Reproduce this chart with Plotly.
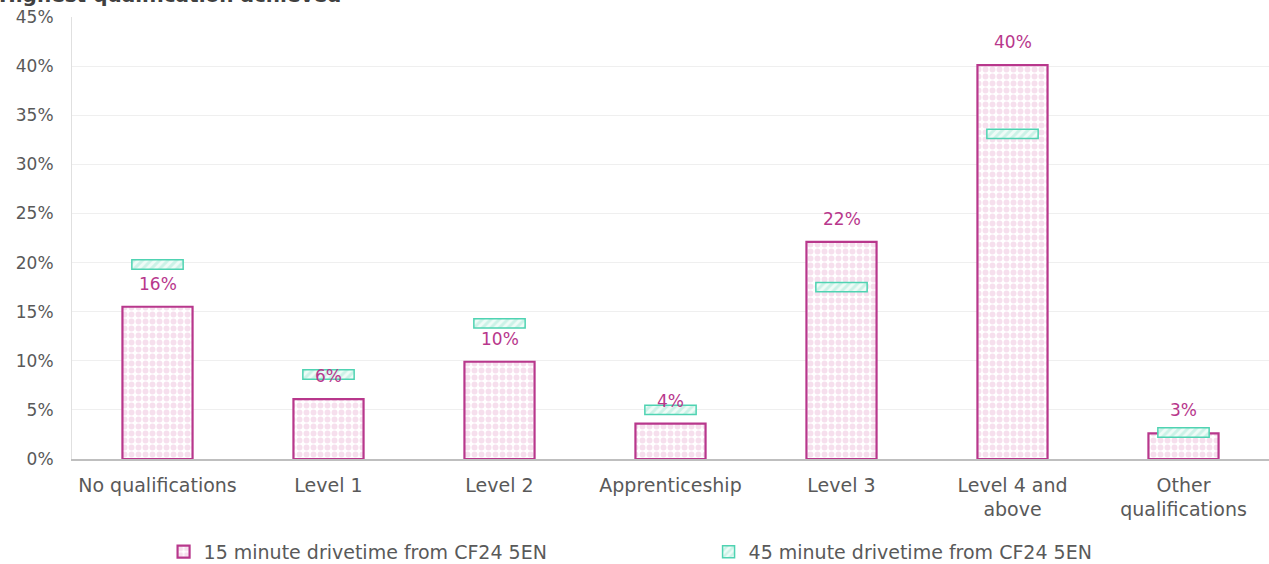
import plotly.graph_objects as go

categories = ["No qualifications", "Level 1", "Level 2", "Apprenticeship", "Level 3",
              "Level 4 and<br>above", "Other<br>qualifications"]
drive15 = [15.5, 6.1, 9.9, 3.6, 22.1, 40.1, 2.6]
drive45 = [19.8, 8.6, 13.8, 5.0, 17.5, 33.1, 2.7]
labels15 = ["16%", "6%", "10%", "4%", "22%", "40%", "3%"]
yticks = [0, 5, 10, 15, 20, 25, 30, 35, 40, 45]
ytick_text = [f"{v}%" for v in yticks]

series15 = "15 minute drivetime from CF24 5EN"
series45 = "45 minute drivetime from CF24 5EN"

MAG = "#B8378C"
TEAL = "#4FD3B2"
FONT = "DejaVu Sans"
GREY = "#595959"
thick = 0.95  # visual thickness of the 45-minute marker, in % units

fig = go.Figure()
fig.add_trace(go.Bar(
    x=categories, y=drive15, name=series15, width=0.41,
    marker=dict(color="white", line=dict(color=MAG, width=2.2),
                pattern=dict(shape=".", fgcolor="#EDBFDB", bgcolor="white",
                             size=7, solidity=0.55)),
))
fig.add_trace(go.Bar(
    x=categories, y=[thick] * len(drive45), base=[v - thick / 2 for v in drive45],
    name=series45, width=0.30,
    marker=dict(color="white", line=dict(color=TEAL, width=1.5),
                pattern=dict(shape="/", fgcolor="#A8EAD7", bgcolor="#EFFBF7",
                             size=6, solidity=0.5)),
))

for c, v, t in zip(categories, drive15, labels15):
    fig.add_annotation(x=c, y=v, text=t, showarrow=False, yanchor="bottom",
                       yshift=11, font=dict(family=FONT, size=17, color=MAG))

fig.add_annotation(xref="paper", yref="paper", x=-0.0627, y=1, xanchor="left",
                   yanchor="bottom", yshift=8, showarrow=False,
                   text="<b>Highest qualification achieved</b>",
                   font=dict(family=FONT, size=20, color="#404040"))

fig.update_layout(
    width=1269, height=564, barmode="overlay",
    margin=dict(l=72, r=0, t=17, b=105, autoexpand=False),
    plot_bgcolor="white", paper_bgcolor="white",
    font=dict(family=FONT, size=17, color=GREY),
    legend=dict(orientation="h", x=0.0765, xanchor="left", y=-0.167, yanchor="top",
                entrywidth=500, font=dict(family=FONT, size=19, color=GREY),
                itemwidth=30),
    showlegend=True,
)
fig.update_xaxes(showline=True, linecolor="#BFBFBF", linewidth=1.5, ticks="",
                 automargin=False, ticklabelstandoff=8,
                 tickfont=dict(family=FONT, size=19, color=GREY))
fig.update_yaxes(range=[0, 45], tickvals=yticks, ticktext=ytick_text,
                 showgrid=True, gridcolor="#EFEFEF", gridwidth=1,
                 showline=True, linecolor="#E0E0E0", zeroline=False,
                 automargin=False, ticklabelstandoff=14,
                 tickfont=dict(family=FONT, size=17, color=GREY))

fig.write_html("out.html", config={"displayModeBar": False},
               post_script="document.body.style.margin='0';document.body.style.overflow='hidden';")
